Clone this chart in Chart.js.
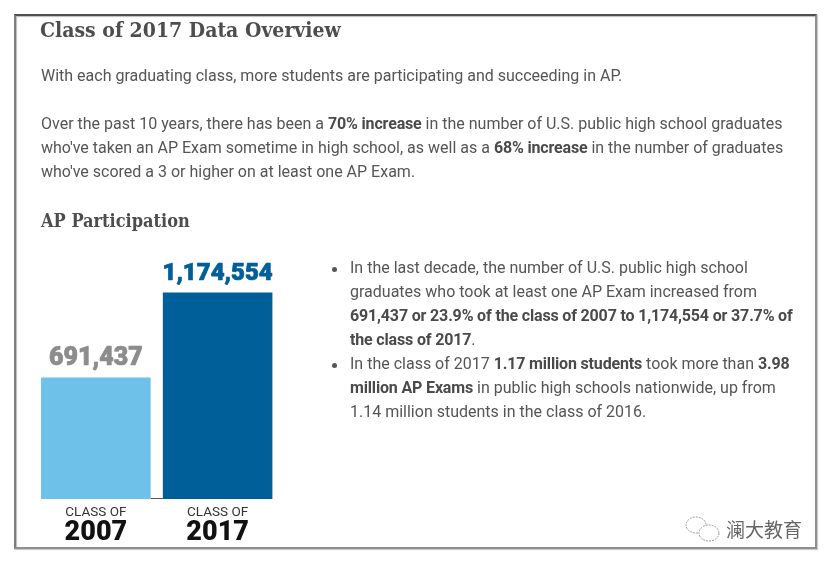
<!DOCTYPE html>
<html><head><meta charset="utf-8">
<script src="https://cdn.jsdelivr.net/npm/chart.js@4"></script>
<style>
html,body{margin:0;padding:0;background:#fff;overflow:hidden}
#page{position:relative;width:831px;height:564px;font-family:Roboto,sans-serif;color:#555;font-size:16px;overflow:hidden}
#frame{position:absolute;left:14px;top:14px;width:799px;height:531px;border:2px solid #8f8f8f;border-top-color:#4f4f4f;border-left-color:#7d7d7d;box-shadow:inset 1px 1px 1px #bbb,1px 1px 1px #ccc}
canvas{position:absolute;left:0;top:0}
.t{position:absolute;white-space:nowrap;line-height:24px}
h1,h2{position:absolute;margin:0;font-family:"DejaVu Serif Condensed","DejaVu Serif",serif;color:#4d4d4d;white-space:nowrap;font-weight:700;letter-spacing:0}
h1{left:40px;top:15px;font-size:21px;line-height:30px}
h2{left:41px;top:208px;font-size:18px;line-height:26px}
b{font-weight:700;color:#4a4a4a;letter-spacing:-.16px}
.dot{position:absolute;left:332px;width:5px;height:5px;border-radius:50%;background:#555}
#wm{position:absolute;left:726px;top:516px;font:19px/26px "Noto Sans CJK SC",sans-serif;color:#666;white-space:nowrap}
svg{position:absolute;left:684px;top:515px}
</style></head><body>
<div id="page">
<canvas id="c" width="831" height="564"></canvas>
<div id="frame"></div>
<h1>Class of 2017 Data Overview</h1>
<div class="t" style="left:41px;top:64px">With each graduating class, more students are participating and succeeding in AP.</div>
<div class="t" style="left:41px;top:112px">Over the past 10 years, there has been a <b>70% increase</b> in the number of U.S. public high school graduates<br>who've taken an AP Exam sometime in high school, as well as a <b>68% increase</b> in the number of graduates<br>who've scored a 3 or higher on at least one AP Exam.</div>
<h2>AP Participation</h2>
<div class="dot" style="top:267px"></div>
<div class="t" style="left:350px;top:256px">In the last decade, the number of U.S. public high school<br>graduates who took at least one AP Exam increased from<br><b>691,437 or 23.9% of the class of 2007 to 1,174,554 or 37.7% of</b><br><b>the class of 2017</b>.</div>
<div class="dot" style="top:363px"></div>
<div class="t" style="left:350px;top:352px">In the class of 2017 <b>1.17 million students</b> took more than <b>3.98</b><br><b>million AP Exams</b> in public high schools nationwide, up from<br>1.14 million students in the class of 2016.</div>
<svg width="40" height="30" viewBox="0 0 40 30" fill="none" stroke="#999" stroke-width="1" stroke-dasharray="2 1"><ellipse cx="12" cy="10" rx="10" ry="8"/><ellipse cx="25" cy="18" rx="10" ry="8" fill="#fff"/></svg>
<div id="wm">澜大教育</div>
</div>
<script>
const years = ["2007", "2017"];
const classOf = ["CLASS OF", "CLASS OF"];
const participants = [691437, 1174554];
const valueLabels = ["691,437", "1,174,554"];
const barColors = ["#6EC1E8", "#005F99"];
const labelColors = ["#8C8C8C", "#005F99"];

const valueLabelPlugin = {
  id: "valueLabels",
  beforeDatasetsDraw(chart) {
    const ctx = chart.ctx, d = chart.getDatasetMeta(0).data, y = chart.scales.y.getPixelForValue(0);
    ctx.save();
    ctx.strokeStyle = "#555";
    ctx.lineWidth = 1;
    ctx.beginPath();
    ctx.moveTo(d[0].x + d[0].width / 2, y - 0.5);
    ctx.lineTo(d[1].x - d[1].width / 2, y - 0.5);
    ctx.stroke();
    ctx.restore();
  },
  afterDatasetsDraw(chart) {
    const ctx = chart.ctx, meta = chart.getDatasetMeta(0), base = chart.scales.y.getPixelForValue(0);
    ctx.save();
    ctx.textAlign = "center";
    ctx.textBaseline = "bottom";
    ctx.lineWidth = 0.7;
    ctx.lineJoin = "round";
    meta.data.forEach((bar, i) => {
      ctx.font = "900 " + (i === 0 ? 25 : 24) + "px Roboto, sans-serif";
      ctx.fillStyle = labelColors[i];
      ctx.strokeStyle = labelColors[i];
      ctx.fillText(valueLabels[i], bar.x, bar.y - 6);
      ctx.strokeText(valueLabels[i], bar.x, bar.y - 6);
    });
    ctx.textBaseline = "middle";
    ctx.font = "900 27px Roboto, sans-serif";
    ctx.fillStyle = "#111";
    years.forEach((yr, i) => {
      ctx.fillText(yr, chart.scales.x.getPixelForValue(i), base + 34.5);
    });
    ctx.restore();
  }
};

new Chart(document.getElementById("c"), {
  type: "bar",
  data: {
    labels: classOf,
    datasets: [{
      data: participants,
      backgroundColor: barColors,
      barPercentage: 0.9,
      categoryPercentage: 1
    }]
  },
  options: {
    responsive: false,
    animation: false,
    events: [],
    layout: { padding: { left: 35, right: 552.5, top: 288, bottom: 38.5 } },
    plugins: { legend: { display: false }, tooltip: { enabled: false } },
    scales: {
      y: { display: false, min: 0, max: 1200000 },
      x: {
        position: "bottom",
        grid: { display: false, drawTicks: false },
        border: { display: false },
        ticks: { color: "#333", font: { family: "Roboto, sans-serif", size: 13.5, lineHeight: 1 }, padding: 6.5, maxRotation: 0, autoSkip: false }
      }
    }
  },
  plugins: [valueLabelPlugin]
});
</script>
</body></html>
